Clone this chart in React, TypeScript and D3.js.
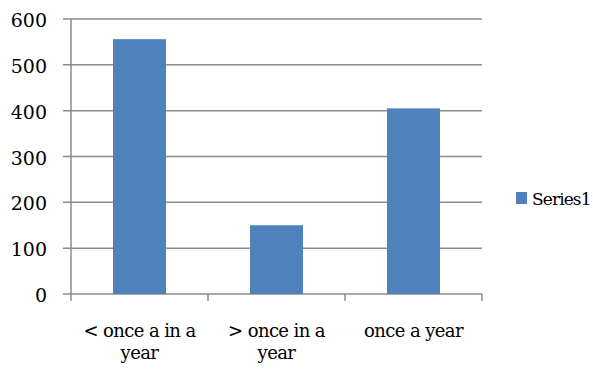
import React from "react";
import * as d3 from "d3";

// Chart data
const categories: string[][] = [
  ["< once a in a", "year"],
  ["> once in a", "year"],
  ["once a year"],
];
const series1: number[] = [556, 150, 405];
const yTicks: number[] = [0, 100, 200, 300, 400, 500, 600];
const seriesName = "Series1";

const W = 593;
const H = 372;
const margin = { left: 71, right: 111, top: 19, bottom: 78 };
const FONT = "'DejaVu Serif', serif";
const BAR = "#4F81BD";
const GRID = "#8c8c8c";

export default function App() {
  const x0 = margin.left;
  const x1 = W - margin.right;
  const y0 = H - margin.bottom;
  const y1 = margin.top;

  const y = d3.scaleLinear().domain([0, 600]).range([y0, y1]);
  const idx = categories.map((_, i) => String(i));
  const x = d3
    .scaleBand<string>()
    .domain(idx)
    .range([x0, x1])
    .paddingInner(0.613)
    .paddingOuter(0.3065);
  const step = (x1 - x0) / categories.length;
  const boundaries = d3.range(categories.length + 1).map((i) => x0 + i * step);

  return (
    <div style={{ position: "fixed", left: 0, top: 0 }}>
      <svg width={W} height={H} style={{ display: "block", background: "#fff" }}>
        {/* horizontal gridlines with outside ticks */}
        {yTicks.map((t) => (
          <line
            key={"g" + t}
            x1={x0 - 8}
            x2={x1}
            y1={y(t)}
            y2={y(t)}
            stroke={GRID}
            strokeWidth={1.5}
          />
        ))}
        {/* y axis line */}
        <line x1={x0} x2={x0} y1={y1} y2={y0} stroke={GRID} strokeWidth={1.5} />
        {/* category boundary ticks */}
        {boundaries.map((b, i) => (
          <line
            key={"t" + i}
            x1={b}
            x2={b}
            y1={y0}
            y2={y0 + 7}
            stroke={GRID}
            strokeWidth={1.5}
          />
        ))}
        {/* bars */}
        {series1.map((v, i) => (
          <rect
            key={"b" + i}
            x={x(String(i))}
            y={y(v)}
            width={x.bandwidth()}
            height={y0 - y(v)}
            fill={BAR}
          />
        ))}
        {/* y tick labels */}
        {yTicks.map((t) => (
          <text
            key={"yl" + t}
            x={47}
            y={y(t) + 8}
            textAnchor="end"
            style={{ fontFamily: FONT, fontSize: 19 }}
            fill="#000"
          >
            {t}
          </text>
        ))}
        {/* category labels */}
        {categories.map((lines, i) => (
          <text
            key={"xl" + i}
            textAnchor="middle"
            style={{ fontFamily: FONT, fontSize: 18, letterSpacing: -0.6 }}
            fill="#000"
          >
            {lines.map((ln, j) => (
              <tspan key={j} x={x(String(i))! + x.bandwidth() / 2} y={337 + j * 22}>
                {ln}
              </tspan>
            ))}
          </text>
        ))}
        {/* legend */}
        <rect x={516} y={192} width={11} height={12} fill={BAR} />
        <text
          x={532}
          y={205}
          style={{ fontFamily: FONT, fontSize: 17, letterSpacing: -0.9 }}
          fill="#000"
        >
          {seriesName}
        </text>
      </svg>
    </div>
  );
}
